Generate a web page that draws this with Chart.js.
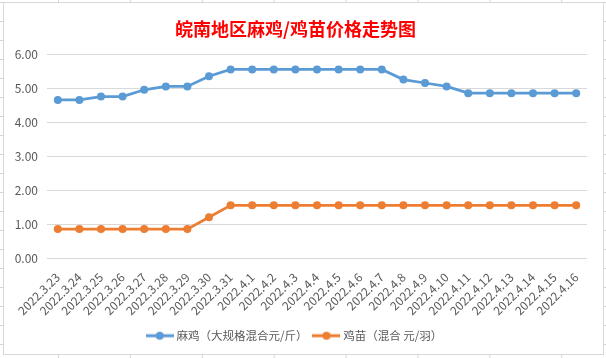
<!DOCTYPE html>
<html>
<head>
<meta charset="utf-8">
<title>皖南地区麻鸡/鸡苗价格走势图</title>
<script src="https://cdn.jsdelivr.net/npm/chart.js@4.4.1/dist/chart.umd.min.js"></script>
<style>
  html, body { margin: 0; padding: 0; }
  body {
    width: 606px; height: 358px; overflow: hidden; position: relative;
    background-color: #fff;
    background-image:
      linear-gradient(to bottom, #d4d4d4 1px, transparent 1px),
      linear-gradient(to right, #d4d4d4 1px, transparent 1px);
    background-size: 100% 19px, 71.9px 100%;
    background-position: 0 2px, 58px 0;
  }
  #box {
    position: absolute; left: 3px; top: 2px; width: 601px; height: 353px;
    box-sizing: border-box; border: 1px solid #d9d9d9; background: #fff;
  }
  #myChart { display: block; }
</style>
</head>
<body>
<div id="box"><canvas id="myChart" width="599" height="351"></canvas></div>
<script>
// 日期
const dates = ['2022.3.23', '2022.3.24', '2022.3.25', '2022.3.26', '2022.3.27', '2022.3.28', '2022.3.29',
    '2022.3.30', '2022.3.31', '2022.4.1', '2022.4.2', '2022.4.3', '2022.4.4', '2022.4.5', '2022.4.6',
    '2022.4.7', '2022.4.8', '2022.4.9', '2022.4.10', '2022.4.11', '2022.4.12', '2022.4.13', '2022.4.14',
    '2022.4.15', '2022.4.16'];

// 麻鸡（大规格混合元/斤）
const majiPrices = [4.65, 4.65, 4.75, 4.75, 4.95, 5.05, 5.05, 5.35, 5.55, 5.55, 5.55, 5.55, 5.55, 5.55,
    5.55, 5.55, 5.25, 5.15, 5.05, 4.85, 4.85, 4.85, 4.85, 4.85, 4.85];

// 鸡苗（混合 元/羽）
const jimiaoPrices = [0.85, 0.85, 0.85, 0.85, 0.85, 0.85, 0.85, 1.2, 1.55, 1.55, 1.55, 1.55, 1.55, 1.55,
    1.55, 1.55, 1.55, 1.55, 1.55, 1.55, 1.55, 1.55, 1.55, 1.55, 1.55];

const seriesNames = ['麻鸡（大规格混合元/斤）', '鸡苗（混合 元/羽）'];
const yMin = 0;
const yMax = 6;
const yStep = 1;

const blue = '#5B9BD5';
const orange = '#ED7D31';

// 图例里的小图标：线 + 圆点
function legendIcon(color) {
    const c = document.createElement('canvas');
    c.width = 28;
    c.height = 10;
    const g = c.getContext('2d');
    g.strokeStyle = color;
    g.lineWidth = 3;
    g.beginPath();
    g.moveTo(0, 5);
    g.lineTo(28, 5);
    g.stroke();
    g.fillStyle = color;
    g.beginPath();
    g.arc(14, 5, 4, 0, Math.PI * 2);
    g.fill();
    return c;
}
const icons = [legendIcon(blue), legendIcon(orange)];

Chart.defaults.font.family = "'Noto Sans CJK SC', 'Open Sans', sans-serif";
Chart.defaults.color = '#595959';

const ctx = document.getElementById('myChart').getContext('2d');
const myChart = new Chart(ctx, {
    type: 'line',
    data: {
        labels: dates,
        datasets: [{
            label: seriesNames[0],
            data: majiPrices,
            borderColor: blue,
            backgroundColor: blue,
            borderWidth: 2.75,
            pointRadius: 4,
            pointBorderWidth: 0,
            tension: 0
        }, {
            label: seriesNames[1],
            data: jimiaoPrices,
            borderColor: orange,
            backgroundColor: orange,
            borderWidth: 2.75,
            pointRadius: 4,
            pointBorderWidth: 0,
            tension: 0
        }]
    },
    options: {
        responsive: false,
        animation: false,
        layout: {
            padding: { left: 0, right: 16, top: 0, bottom: 2.5 }
        },
        plugins: {
            title: {
                display: true,
                text: '皖南地区麻鸡/鸡苗价格走势图',
                color: '#FF0000',
                font: { size: 18, weight: 'bold' },
                padding: { top: 15, bottom: 14.5 }
            },
            legend: {
                position: 'bottom',
                labels: {
                    usePointStyle: true,
                    pointStyleWidth: 22,
                    padding: 8,
                    font: { size: 11.5 },
                    color: '#595959',
                    generateLabels: function (chart) {
                        const items = Chart.defaults.plugins.legend.labels.generateLabels(chart);
                        items.forEach((it, i) => { it.pointStyle = icons[i]; });
                        return items;
                    }
                }
            },
            tooltip: { enabled: false }
        },
        scales: {
            x: {
                offset: true,
                grid: { display: false },
                border: { display: false },
                ticks: {
                    autoSkip: false,
                    minRotation: 45,
                    maxRotation: 45,
                    padding: 4,
                    font: { size: 12 },
                    color: '#595959'
                },
                afterFit: function (scale) { scale.height = 64; }
            },
            y: {
                min: yMin,
                max: yMax,
                grid: { color: '#d9d9d9', drawTicks: false },
                border: { display: false },
                ticks: {
                    stepSize: yStep,
                    padding: 9,
                    font: { size: 12 },
                    color: '#595959',
                    callback: v => v.toFixed(2)
                },
                afterFit: function (scale) { scale.width = 43; }
            }
        }
    }
});
</script>
</body>
</html>
